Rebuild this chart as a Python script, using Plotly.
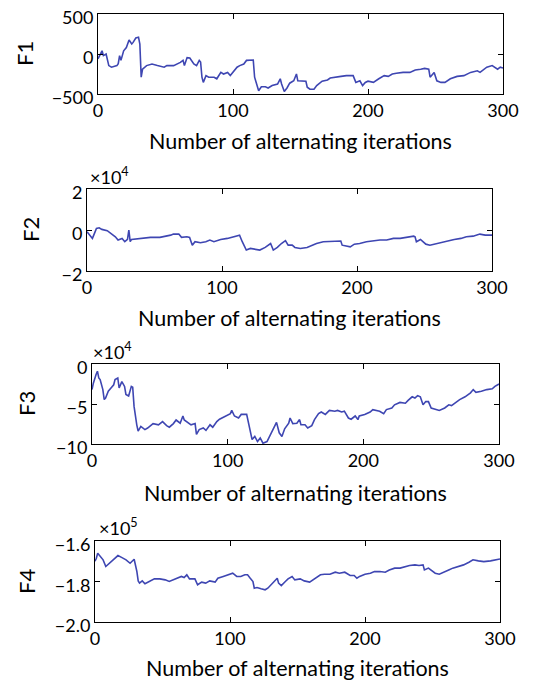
import plotly.graph_objects as go

W, H = 555, 682

# ---------------- data ----------------
F1_x = [0,2,3,4,6,8,10,14,15,16,17,19,21,23,25,26,28,30,31,32,33,36,40,44,49,51,56,61,63,64,66,68,71,73,75,76,77,78,80,82,86,88,91,93,96,98,100,103,105,108,110,113,115,116,119,121,124,126,129,133,135,136,138,140,142,145,147,148,151,154,155,157,160,162,166,170,172,175,180,184,189,191,194,196,198,200,204,208,212,215,218,221,226,231,235,239,242,245,246,249,251,254,257,261,266,271,276,281,283,288,292,296,298,300]
F1_y = [-60,20,40,-20,0,-145,-165,-145,-120,-20,-80,40,80,175,125,145,200,210,125,-290,-190,-145,-125,-145,-165,-145,-145,-105,-80,-145,-45,-50,-125,-145,-80,-100,-290,-355,-270,-290,-290,-310,-230,-250,-230,-270,-230,-165,-145,-125,-80,-80,-75,-290,-460,-410,-410,-425,-395,-375,-310,-375,-470,-425,-365,-335,-250,-335,-340,-340,-415,-440,-440,-395,-340,-325,-300,-290,-280,-270,-270,-355,-335,-395,-355,-340,-355,-310,-270,-280,-250,-240,-230,-230,-200,-190,-180,-190,-290,-230,-335,-355,-355,-310,-280,-270,-230,-210,-230,-165,-145,-190,-165,-175]

F2_x = [0,2,4,5,7,9,11,15,18,21,23,26,28,30,31,32,33,40,47,54,59,62,64,68,70,74,76,78,80,84,88,91,94,99,104,109,113,115,118,121,125,128,132,134,136,138,141,144,147,149,152,154,158,163,167,170,175,183,188,189,193,195,198,202,207,212,217,222,227,232,237,242,243,244,247,251,254,257,262,267,272,277,281,286,291,295,300]
F2_y = [-0.08,-0.25,-0.41,-0.25,0.08,0.11,0.03,-0.03,-0.16,-0.33,-0.49,-0.41,-0.57,-0.46,0.0,-0.57,-0.46,-0.41,-0.36,-0.36,-0.30,-0.25,-0.20,-0.20,-0.36,-0.33,-0.36,-0.74,-0.57,-0.62,-0.57,-0.49,-0.57,-0.46,-0.41,-0.30,-0.25,-0.57,-0.98,-0.90,-0.95,-0.98,-0.85,-0.74,-0.66,-0.98,-0.85,-0.66,-0.52,-0.74,-0.74,-0.85,-0.90,-0.85,-0.74,-0.66,-0.57,-0.54,-0.54,-0.74,-0.79,-0.82,-0.69,-0.66,-0.57,-0.52,-0.49,-0.49,-0.41,-0.41,-0.36,-0.30,-0.33,-0.57,-0.46,-0.69,-0.74,-0.69,-0.62,-0.52,-0.46,-0.41,-0.33,-0.30,-0.20,-0.25,-0.25]

F3_x = [0,1,3,4,5,6,8,9,10,12,14,16,17,19,20,22,24,25,27,29,30,31,33,34,36,39,41,45,49,52,55,57,60,62,65,67,68,71,73,76,77,79,82,84,87,89,92,94,98,102,103,105,108,110,114,116,118,120,122,124,126,129,131,133,135,136,138,140,142,145,146,148,151,153,154,157,159,162,164,167,169,172,175,179,181,184,186,189,191,194,196,197,201,205,207,210,212,215,217,221,223,227,231,233,236,238,240,242,244,246,248,250,253,256,260,263,265,268,271,275,279,281,283,287,291,295,297,300]
F3_y = [-3.2,-2.4,-1.3,-0.9,-1.75,-1.95,-3.2,-4.45,-4.25,-3.4,-3.0,-2.6,-1.95,-1.75,-3.0,-2.2,-2.8,-3.8,-4.0,-2.8,-2.9,-5.3,-7.6,-8.4,-7.8,-8.2,-8.0,-7.45,-7.6,-7.2,-7.7,-7.9,-7.45,-7.0,-7.4,-6.5,-7.0,-7.4,-7.6,-7.45,-8.8,-8.2,-8.0,-8.3,-7.6,-7.9,-7.2,-6.9,-6.5,-6.2,-5.8,-6.5,-6.75,-6.3,-6.3,-7.9,-9.45,-9.05,-9.7,-9.25,-9.9,-9.7,-9.05,-8.3,-7.7,-7.3,-8.6,-9.05,-8.1,-7.4,-6.75,-7.45,-7.4,-6.95,-7.6,-7.6,-8.0,-7.7,-6.95,-6.2,-6.0,-6.3,-5.8,-5.9,-5.8,-6.0,-5.9,-6.75,-6.9,-6.5,-6.95,-6.5,-6.3,-6.0,-5.7,-5.8,-5.9,-6.2,-5.7,-5.5,-5.1,-4.8,-4.9,-4.55,-4.1,-4.25,-3.95,-4.1,-5.1,-4.7,-4.7,-5.5,-5.7,-5.8,-5.5,-5.1,-5.2,-4.8,-4.45,-4.1,-3.6,-3.2,-3.55,-3.4,-3.2,-3.1,-2.8,-2.5]

F4_x = [0,1,2,4,6,8,10,12,15,17,20,21,23,26,28,29,31,32,33,35,37,41,44,48,52,55,60,64,66,68,70,74,76,79,82,85,89,91,95,100,102,105,108,111,113,115,117,118,120,123,126,128,131,133,135,136,138,141,143,146,148,152,155,159,163,167,170,174,178,181,185,189,192,194,196,200,204,207,211,215,218,222,226,230,233,237,240,243,244,247,249,252,255,259,262,265,269,273,277,280,284,288,293,296,300]
F4_y = [-1.700,-1.685,-1.660,-1.677,-1.693,-1.726,-1.715,-1.700,-1.685,-1.672,-1.682,-1.685,-1.693,-1.710,-1.693,-1.690,-1.750,-1.797,-1.808,-1.797,-1.811,-1.797,-1.787,-1.787,-1.792,-1.800,-1.787,-1.775,-1.780,-1.767,-1.787,-1.787,-1.816,-1.803,-1.808,-1.797,-1.803,-1.784,-1.775,-1.764,-1.759,-1.775,-1.775,-1.767,-1.767,-1.784,-1.800,-1.833,-1.830,-1.836,-1.841,-1.833,-1.813,-1.797,-1.784,-1.808,-1.820,-1.800,-1.787,-1.775,-1.792,-1.787,-1.797,-1.803,-1.787,-1.767,-1.764,-1.764,-1.754,-1.759,-1.754,-1.770,-1.770,-1.784,-1.775,-1.764,-1.759,-1.751,-1.751,-1.754,-1.743,-1.734,-1.734,-1.726,-1.721,-1.718,-1.721,-1.718,-1.743,-1.734,-1.743,-1.759,-1.764,-1.754,-1.743,-1.734,-1.726,-1.718,-1.705,-1.693,-1.698,-1.702,-1.698,-1.693,-1.689]

X_TICKS = [0, 100, 200, 300]
X_TICK_LABELS = ["0", "100", "200", "300"]
Y_LABELS = ["F1", "F2", "F3", "F4"]
Y_TICKS = [[-500, 0, 500], [-2, 0, 2], [-10, -5, 0], [-2.0, -1.8, -1.6]]
Y_TICK_LABELS = [["\u2212500", "0", "500"], ["\u22122", "0", "2"],
                 ["\u221210", "\u22125", "0"], ["\u22122.0", "\u22121.8", "\u22121.6"]]
Y_RANGES = [[-500, 500], [-2, 2], [-10, 0], [-2.0, -1.6]]
EXPONENTS = [None, 4, 4, 5]
X_TITLE = "Number of alternating iterations"

series = [(F1_x, F1_y), (F2_x, F2_y), (F3_x, F3_y), (F4_x, F4_y)]

# ---------------- layout geometry (pixels) ----------------
boxes = [(98, 503, 14, 94), (87, 492, 189, 271), (92, 499, 364, 444), (95, 500, 541, 622)]
ylab_pos = [(24, 54), (31, 230), (26, 404), (26, 582)]
xtitle_y = [141, 318, 493, 668]
exp_pos = [None, (88, 176), (91, 351), (97, 527)]

FONT = "Lato"
LINE_COLOR = "rgb(62,70,178)"

fig = go.Figure()
layout = dict(template="none", autosize=False,
              width=W, height=H, margin=dict(l=0, r=0, t=0, b=0, pad=0, autoexpand=False),
              paper_bgcolor="white", plot_bgcolor="white", showlegend=False,
              font=dict(family=FONT, size=18, color="black"))
annotations = []

for i, ((xs, ys), (x0, x1, y0, y1)) in enumerate(zip(series, boxes)):
    n = "" if i == 0 else str(i + 1)
    fig.add_trace(go.Scatter(x=xs, y=ys, mode="lines",
                             line=dict(color=LINE_COLOR, width=1.6),
                             xaxis="x" + n, yaxis="y" + n, hoverinfo="skip"))
    common = dict(showline=True, linecolor="black", linewidth=1, mirror="allticks",
                  ticks="inside", ticklen=5, tickcolor="black", tickwidth=1,
                  showgrid=False, zeroline=False, automargin=False,
                  tickfont=dict(family=FONT, size=18, color="black"))
    layout["xaxis" + n] = dict(common, domain=[x0 / W, x1 / W], range=[0, 300],
                               tickmode="array", tickvals=X_TICKS, ticktext=X_TICK_LABELS,
                               anchor="y" + n)
    layout["yaxis" + n] = dict(common, domain=[1 - y1 / H, 1 - y0 / H],
                               range=Y_RANGES[i], tickmode="array", tickvals=Y_TICKS[i],
                               ticktext=Y_TICK_LABELS[i], anchor="x" + n,
                               ticklabelshift=4)
    annotations.append(dict(text=Y_LABELS[i], x=ylab_pos[i][0] / W, y=1 - ylab_pos[i][1] / H,
                            xref="paper", yref="paper", showarrow=False, textangle=-90,
                            xanchor="center", yanchor="middle",
                            font=dict(family=FONT, size=22, color="black")))
    annotations.append(dict(text=X_TITLE, x=((x0 + x1) / 2) / W, y=1 - xtitle_y[i] / H,
                            xref="paper", yref="paper", showarrow=False,
                            xanchor="center", yanchor="middle",
                            font=dict(family=FONT, size=21.5, color="black")))
    if EXPONENTS[i] is not None:
        annotations.append(dict(text="\u00d710<sup>%d</sup>" % EXPONENTS[i],
                                x=exp_pos[i][0] / W, y=1 - exp_pos[i][1] / H,
                                xref="paper", yref="paper", showarrow=False,
                                xanchor="left", yanchor="middle",
                                font=dict(family=FONT, size=18, color="black")))

layout["annotations"] = annotations
fig.update_layout(**layout)
fig.write_html("out.html", config={"responsive": False})
